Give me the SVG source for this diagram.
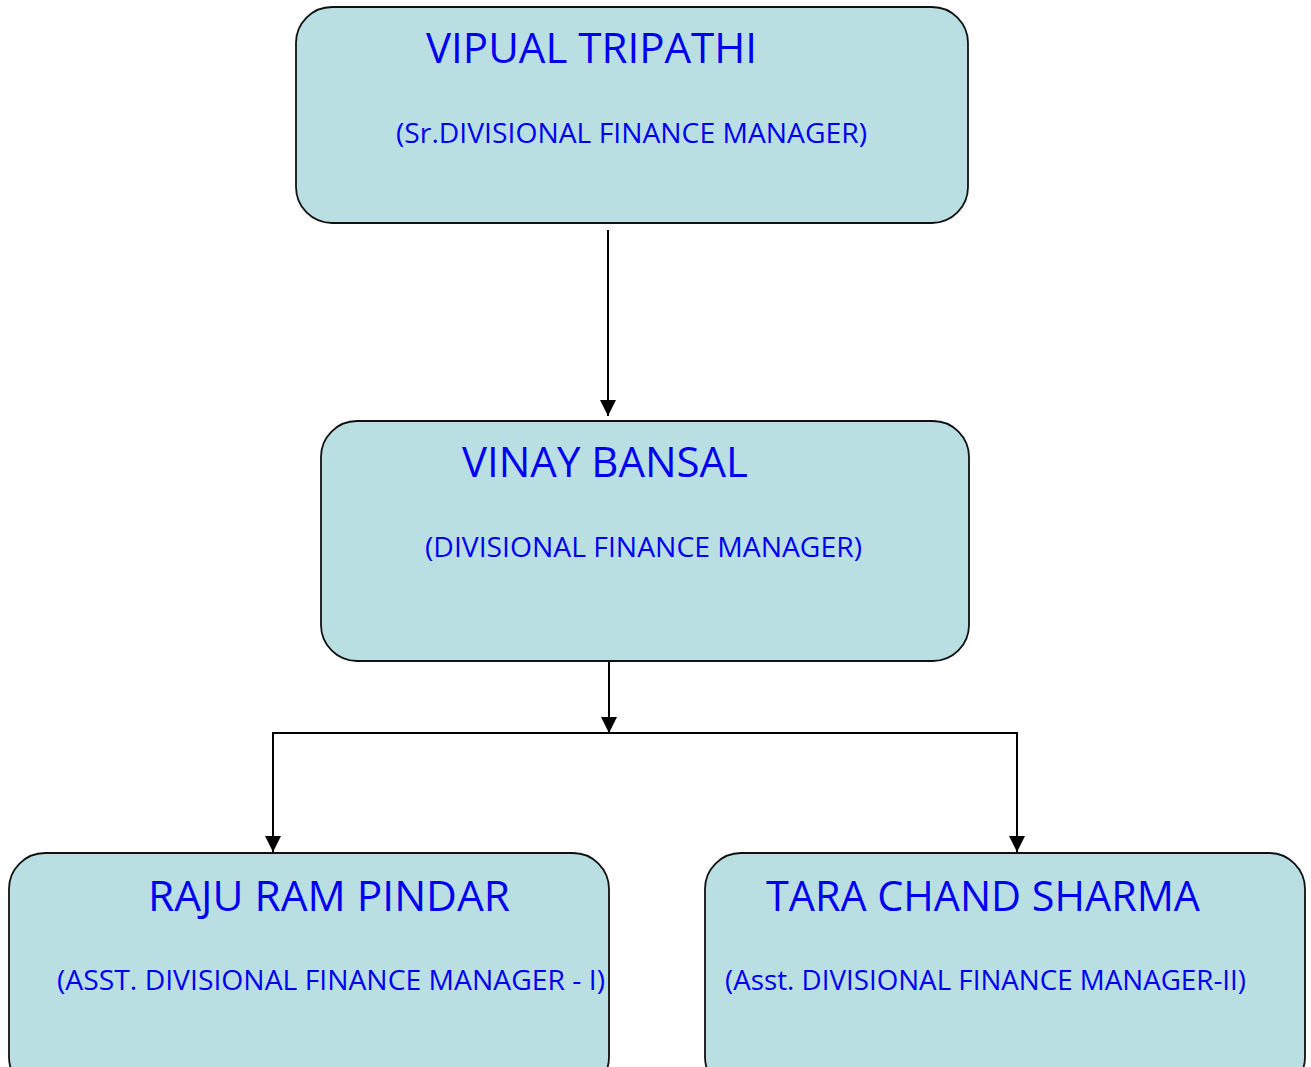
<svg xmlns="http://www.w3.org/2000/svg" width="1311" height="1067" viewBox="0 0 1311 1067">
<defs>
<marker id="arr" markerWidth="16" markerHeight="16" refX="16" refY="8" orient="auto" markerUnits="userSpaceOnUse">
<path d="M0,0 L16,8 L0,16 Z" fill="#000"/>
</marker>
<style>
.box{fill:#b9dfe2;stroke:#111;stroke-width:1.8}
.t{font-family:"Open Sans","Liberation Sans",sans-serif;fill:#0000f0}
.name{font-size:42px}
.role{font-size:27px}
.c{fill:none;stroke:#000;stroke-width:2}
</style>
</defs>
<rect width="1311" height="1067" fill="#fff"/>
<g id="connectors">
<line class="c" x1="608" y1="230" x2="608" y2="416" marker-end="url(#arr)"/>
<line class="c" x1="609" y1="661" x2="609" y2="733" marker-end="url(#arr)"/>
<polyline class="c" points="609,733 273,733 273,852" marker-end="url(#arr)"/>
<polyline class="c" points="609,733 1017,733 1017,852" marker-end="url(#arr)"/>
</g>
<g id="vipual">
<rect class="box" x="296" y="7" width="672" height="216" rx="36"/>
<text class="t name" x="426" y="63" textLength="331" lengthAdjust="spacingAndGlyphs">VIPUAL TRIPATHI</text>
<text class="t role" x="396" y="143" textLength="471" lengthAdjust="spacingAndGlyphs">(Sr.DIVISIONAL FINANCE MANAGER)</text>
</g>
<g id="vinay">
<rect class="box" x="321" y="421" width="648" height="240" rx="36"/>
<text class="t name" x="462" y="477" textLength="286" lengthAdjust="spacingAndGlyphs">VINAY BANSAL</text>
<text class="t role" x="425" y="557" textLength="437" lengthAdjust="spacingAndGlyphs">(DIVISIONAL FINANCE MANAGER)</text>
</g>
<g id="raju">
<rect class="box" x="9" y="853" width="600" height="240" rx="36"/>
<text class="t name" x="148" y="911" textLength="362" lengthAdjust="spacingAndGlyphs">RAJU RAM PINDAR</text>
<text class="t role" x="57" y="990" textLength="548" lengthAdjust="spacingAndGlyphs">(ASST. DIVISIONAL FINANCE MANAGER - I)</text>
</g>
<g id="tara">
<rect class="box" x="705" y="853" width="600" height="240" rx="36"/>
<text class="t name" x="766" y="911" textLength="434" lengthAdjust="spacingAndGlyphs">TARA CHAND SHARMA</text>
<text class="t role" x="725" y="990" textLength="521" lengthAdjust="spacingAndGlyphs">(Asst. DIVISIONAL FINANCE MANAGER-II)</text>
</g>
</svg>
